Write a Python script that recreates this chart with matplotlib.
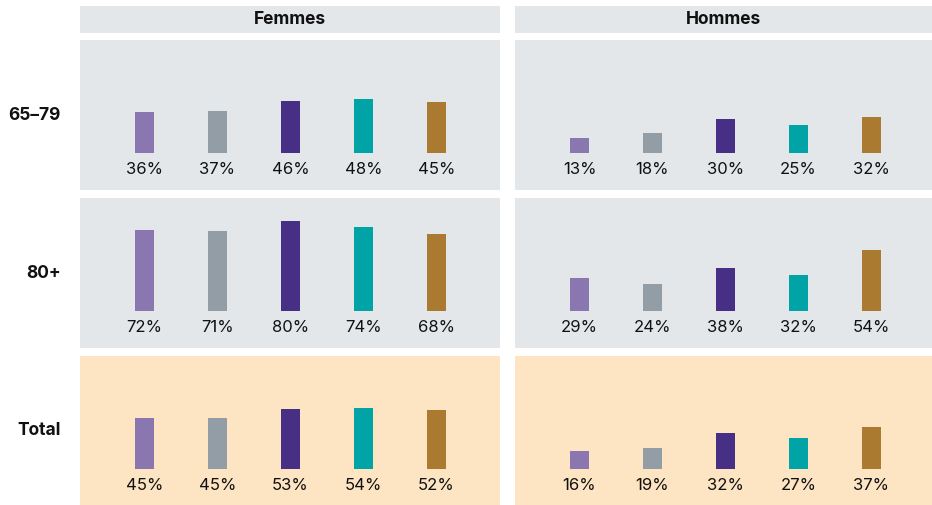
import matplotlib.pyplot as plt

# data
columns = ["Femmes", "Hommes"]
rows = ["65–79", "80+", "Total"]
colors = ["#8A77B0", "#929DA5", "#472F85", "#00A4A6", "#AA7A30"]
femmes_6579 = [36, 37, 46, 48, 45]
femmes_80 = [72, 71, 80, 74, 68]
femmes_total = [45, 45, 53, 54, 52]
hommes_6579 = [13, 18, 30, 25, 32]
hommes_80 = [29, 24, 38, 32, 54]
hommes_total = [16, 19, 32, 27, 37]

values = {
    ("Femmes", "65–79"): femmes_6579, ("Femmes", "80+"): femmes_80, ("Femmes", "Total"): femmes_total,
    ("Hommes", "65–79"): hommes_6579, ("Hommes", "80+"): hommes_80, ("Hommes", "Total"): hommes_total,
}

plt.rcParams['font.family'] = ['Inter', 'DejaVu Sans']

W, H = 932, 505
fig = plt.figure(figsize=(W / 100, H / 100), dpi=100)

def px_axes(x0, y0, x1, y1):
    # pixel box (top-left origin) -> figure axes
    return fig.add_axes([x0 / W, 1 - y1 / H, (x1 - x0) / W, (y1 - y0) / H])

col_x = {"Femmes": (80, 500), "Hommes": (515, 932)}
col_shift = {"Femmes": 0.5, "Hommes": 2.0}  # bar group offset from panel centre, px
row_y = {"65–79": (40, 190), "80+": (198, 348), "Total": (356, 505)}
px_per_pct = 1.13
spacing = 73.0

# headers
for col in columns:
    x0, x1 = col_x[col]
    ax = px_axes(x0, 6, x1, 33)
    ax.set_facecolor("#E4E7EA")
    ax.set_xticks([]); ax.set_yticks([])
    for s in ax.spines.values():
        s.set_visible(False)
    ax.text(0.5, 0.5, col, ha="center", va="center", fontsize=12.5,
            fontweight="bold", color="#111111", transform=ax.transAxes)

for row in rows:
    y0, y1 = row_y[row]
    fig.text(61 / W, 1 - ((y0 + y1) / 2) / H, row, ha="right", va="center",
             fontsize=12.5, fontweight="bold", color="#111111")
    for col in columns:
        x0, x1 = col_x[col]
        ax = px_axes(x0, y0, x1, y1)
        bg = "#FDE4C2" if row == "Total" else "#E4E7EA"
        ax.set_facecolor(bg)
        for s in ax.spines.values():
            s.set_visible(False)
        ax.set_xticks([]); ax.set_yticks([])
        half_w = (x1 - x0) / 2 / spacing
        c = 2 - col_shift[col] / spacing
        ax.set_xlim(c - half_w, c + half_w)
        ph = y1 - y0
        base_from_bottom = ph - 113
        ax.set_ylim(-base_from_bottom / px_per_pct, (ph - base_from_bottom) / px_per_pct)
        vals = values[(col, row)]
        xs = list(range(len(vals)))
        ax.bar(xs, vals, width=19 / spacing, color=colors)
        for x, v in zip(xs, vals):
            ax.text(x, -17 / px_per_pct, f"{v}%", ha="center", va="center",
                    fontsize=12, color="#111111")

fig.savefig("out.png", dpi=100)
